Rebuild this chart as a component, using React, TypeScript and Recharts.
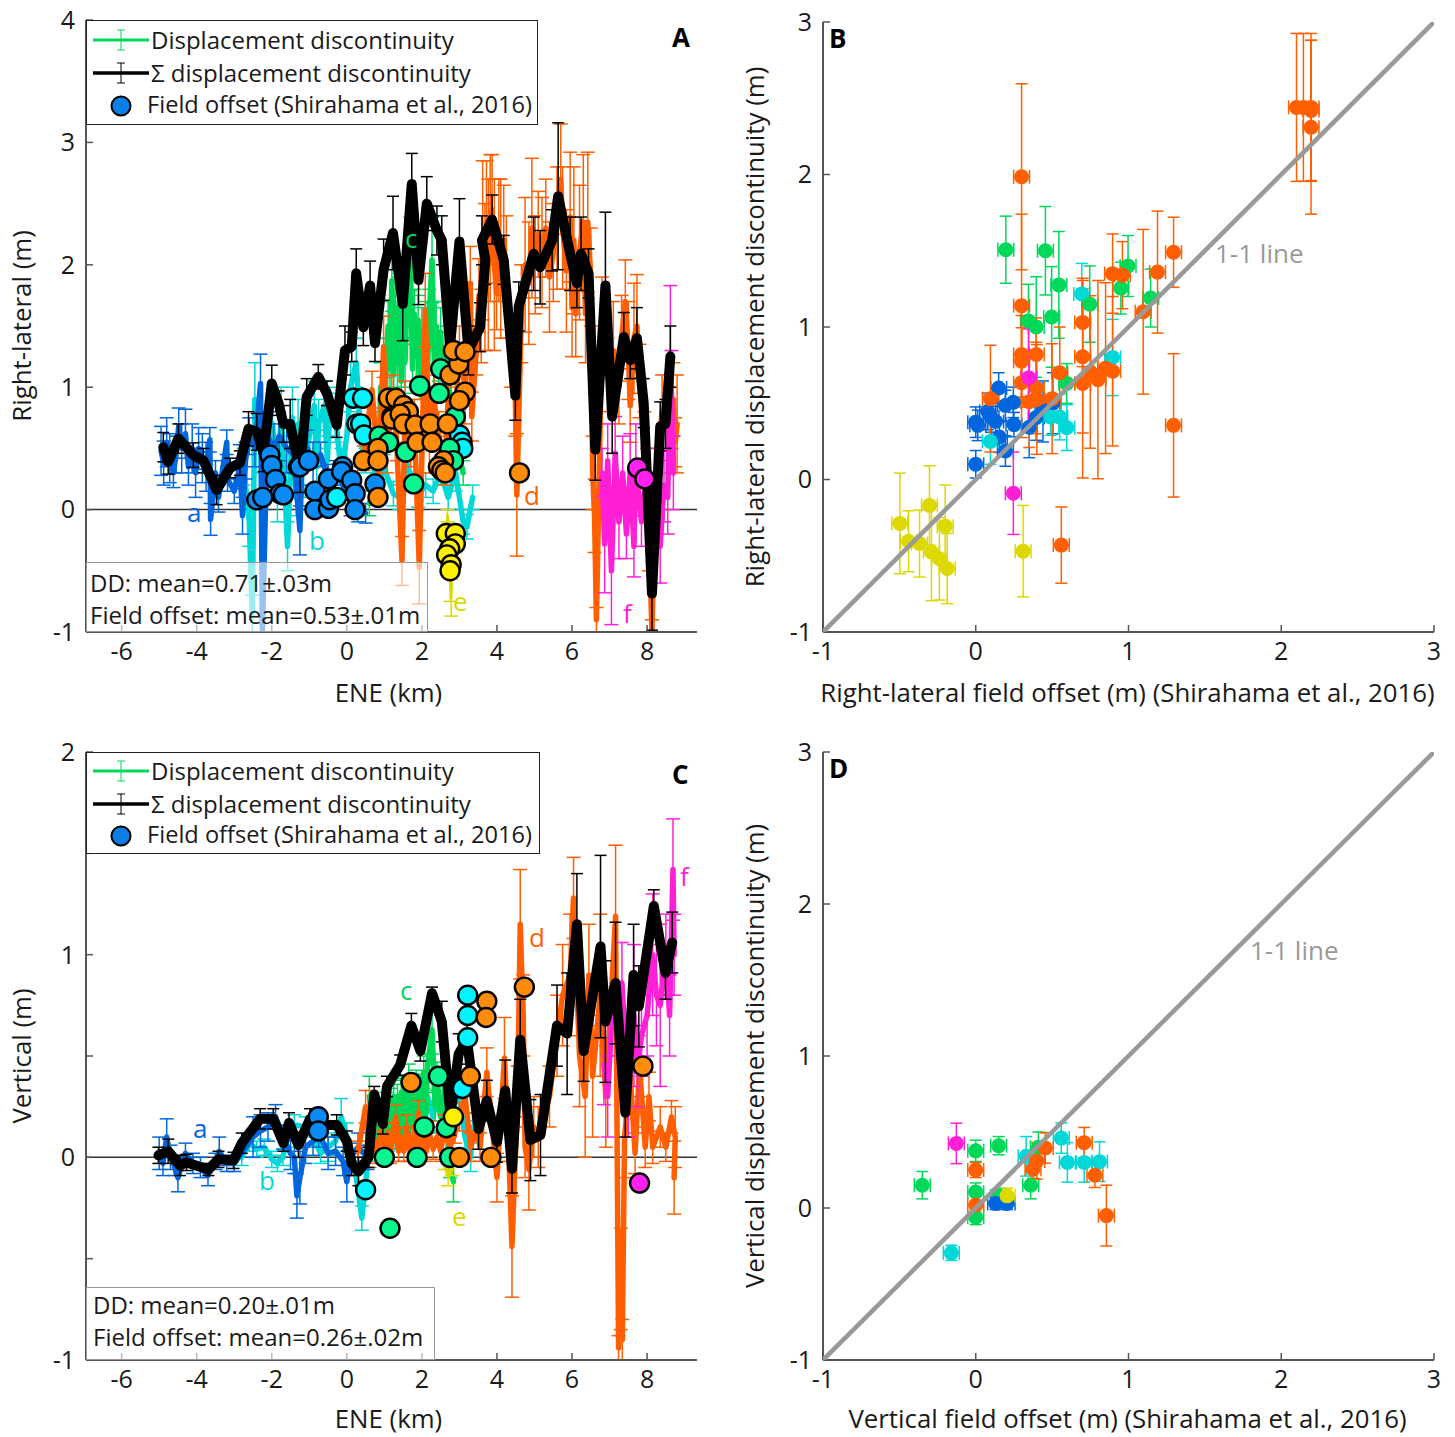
import React from 'react';
import { ComposedChart, Line, Scatter, XAxis, YAxis, ErrorBar, ReferenceLine } from 'recharts';

const FONT = '"Open Sans", sans-serif';
const BLUE = '#0066dd';
const CYAN = '#00d8d8';
const GREEN = '#00d85a';
const ORANGE = '#ff5f00';
const YELLOW = '#dcd800';
const MAGENTA = '#ff1fd6';
const AXIS = '#555555';

// panel A: right-lateral discontinuity along strike [km, m, err]
const aBlue = [[-4.95,.48,.2],[-4.88,.38,.18],[-4.8,.55,.2],[-4.72,.42,.2],[-4.62,.3,.12],[-4.55,.45,.15],[-4.48,.68,.15],[-4.4,.5,.2],[-4.3,.62,.2],[-4.22,.35,.15],[-4.12,.5,.2],[-4.03,.3,.2],[-3.95,.5,.17],[-3.85,.42,.2],[-3.75,.35,.2],[-3.65,.57,.1],[-3.63,-.08,.13],[-3.5,.3,.1],[-3.42,.1,.12],[-3.2,.55,.1],[-3.18,.25,.1],[-3,.15,.1],[-2.85,.35,.18],[-2.78,-.05,.15],[-2.7,.4,.15],[-2.6,.6,.15],[-2.45,.5,.15],[-2.3,1.03,.24],[-2.25,-1,0],[-2.12,.6,.2],[-1.95,.5,.2],[-1.8,.6,.2],[-1.6,.5,.2],[-1.42,.45,.15],[-1.25,-.17,.2],[-1.2,.4,.2],[-1.05,.5,.15],[-.9,.35,.2],[-.7,.45,.1],[-.5,.25,.12],[-.3,.3,.1],[-.1,.2,.12],[.1,.05,.1],[.3,0,.1],[.5,-.03,.08]];
const aCyan = [[-2.75,.35,.15],[-2.6,-.1,.2],[-2.52,-.85,.15],[-2.45,.9,.3],[-2.3,.5,.2],[-2.15,.45,.15],[-1.98,.7,.2],[-1.85,.1,.2],[-1.75,.8,.2],[-1.58,-.3,.2],[-1.45,.75,.25],[-1.35,.1,.15],[-1.3,.7,.2],[-1.15,.3,.2],[-1,.6,.2],[-.87,.85,.2],[-.8,.35,.2],[-.75,.7,.2],[-.6,.85,.2],[-.52,.4,.2],[-.45,.8,.2],[-.3,.75,.2],[-.15,.3,.2],[0,.6,.3],[.1,1,.2],[.25,1.2,.2],[.38,.55,.2],[.5,.4,.1],[.62,.5,.1],[.8,.2,.1],[.98,.35,.1],[1.24,.13,.1],[1.4,.1,.1],[1.6,.37,.1],[1.9,.12,.1],[2.1,.2,.1],[2.3,.15,.1],[2.5,.3,.1],[2.7,.1,.1],[2.9,.3,.15],[3.1,-.1,.1],[3.2,-.14,.1],[3.35,.1,.1]];
const aGreen = [[.6,.05,.1],[.85,.3,.2],[.9,1,.2],[1,.7,.2],[1.05,1.2,.2],[1.1,1.5,.2],[1.15,1.15,.2],[1.2,1.87,.25],[1.25,1.1,.2],[1.3,1.65,.2],[1.35,1.2,.2],[1.4,1.7,.2],[1.45,1.05,.2],[1.5,1.6,.2],[1.55,1.2,.2],[1.6,1.7,.2],[1.69,2.09,.3],[1.75,1.15,.2],[1.8,1.6,.2],[1.85,1.25,.2],[1.9,1.55,.2],[1.95,1.1,.2],[2,1.45,.2],[2.05,1.2,.2],[2.1,1.5,.2],[2.15,1.15,.2],[2.2,1.6,.2],[2.27,2.04,.35],[2.33,1.2,.2],[2.38,1.5,.2],[2.45,1.25,.2],[2.5,1.45,.2],[2.55,1.1,.2],[2.65,1.3,.2],[2.75,.9,.15],[2.85,.6,.15],[2.95,.5,.1],[3.1,.3,.1]];
const aOrange = [[.45,.42,.1],[.67,.98,.15],[.85,.3,.1],[.98,1.33,.25],[1.08,.5,.2],[1.2,.9,.2],[1.32,.6,.2],[1.47,-.42,.2],[1.55,.8,.25],[1.7,.55,.2],[1.8,.7,.2],[1.93,-.47,.3],[2.09,1.63,.3],[2.2,.5,.2],[2.32,.9,.2],[2.45,.6,.2],[2.62,.4,.2],[2.7,.9,.2],[2.9,.8,.2],[3,1.3,.2],[3.15,1,.3],[3.29,1.85,.3],[3.33,.76,.2],[3.45,1.3,.2],[3.52,1.75,.3],[3.58,1.5,.3],[3.62,2.2,.65],[3.68,1.9,.6],[3.72,2.35,.5],[3.77,2,.7],[3.82,2.3,.6],[3.87,2.45,.45],[3.93,2,.7],[3.99,1.77,.3],[4.05,2.2,.5],[4.1,2.05,.65],[4.18,2.2,.45],[4.25,1.9,.5],[4.38,1.3,.3],[4.49,.9,.3],[4.53,.12,.5],[4.65,1.6,.4],[4.75,2,.55],[4.85,1.85,.5],[4.93,2.3,.57],[5.02,2,.4],[5.1,2.25,.35],[5.2,2.1,.45],[5.3,2.3,.4],[5.4,1.9,.45],[5.5,2.1,.4],[5.6,2.3,.5],[5.7,2.7,.45],[5.75,2.3,.5],[5.85,1.95,.5],[5.95,2.39,.53],[6,1.65,.4],[6.05,2.2,.6],[6.1,1.6,.35],[6.2,2.1,.55],[6.3,2.35,.55],[6.36,1.6,.4],[6.42,2.35,.57],[6.5,1.9,.4],[6.55,.3,.3],[6.6,-.05,.3],[6.65,-.9,.1],[6.8,1.5,.4],[6.95,1.1,.3],[7.1,1.3,.4],[7.25,1,.3],[7.32,1.4,.35],[7.42,1.7,.34],[7.5,1.3,.4],[7.55,.85,.3],[7.65,1.4,.45],[7.73,1.5,.42],[7.8,1.05,.3],[7.93,.5,.3],[8.05,-.2,.3],[8.13,-1,.1],[8.22,.2,.3],[8.4,.8,.3],[8.6,.6,.3],[8.7,.9,.3],[8.75,.55,.2],[8.8,.7,.4]];
const aMagenta = [[6.8,.3,.2],[6.87,-.28,.4],[6.95,.4,.3],[7.05,-.5,.44],[7.15,.46,.3],[7.25,-.1,.3],[7.35,.3,.3],[7.45,-.2,.2],[7.55,.32,.3],[7.65,-.3,.25],[7.7,.4,.3],[7.85,-.1,.2],[8,.3,.2],[8.15,0,.2],[8.35,-.3,.3],[8.45,.2,.3],[8.55,.1,.3],[8.62,1.28,.55],[8.65,.9,.4],[8.7,.3,.3]];
const aYellow = [[2.68,-.05,.05],[2.72,-.3,.1],[2.76,-.6,.15],[2.78,-.72,.15],[2.8,-.4,.1],[2.85,-.3,.1]];
const aBlack = [[-4.89,.51,.12],[-4.76,.39,.1],[-4.49,.58,.12],[-4.09,.445,.1],[-3.82,.4,.1],[-3.47,.16,.12],[-3.11,.34,.08],[-2.85,.38,.1],[-2.62,.66,.14],[-2.4,.635,.15],[-2.22,.46,.15],[-2,1.03,.15],[-1.82,.87,.1],[-1.69,.7,.15],[-1.51,.7,.2],[-1.25,.32,.18],[-1.07,.92,.15],[-.76,1.085,.1],[-.53,.95,.1],[-.27,.69,.1],[-.05,1.3,.2],[.13,1.33,.12],[.25,1.93,.2],[.44,1.49,.15],[.62,1.83,.2],[.75,1.36,.15],[.98,1.96,.25],[1.23,2.26,.3],[1.49,1.68,.3],[1.73,2.66,.25],[1.91,1.875,.2],[2.13,2.5,.22],[2.4,2.28,.2],[2.53,2.2,.2],[2.75,1.33,.3],[3,2.19,.35],[3.24,1.3,.2],[3.55,1.49,.2],[3.69,2.04,.2],[3.6,2.2,.2],[3.87,2.37,.2],[4.18,2.04,.2],[4.49,.93,.2],[4.58,1.66,.2],[4.98,2.09,.3],[5.15,1.98,.3],[5.47,2.2,.25],[5.63,2.56,.6],[5.95,2.09,.3],[6.13,1.85,.2],[6.24,2.09,.3],[6.44,1.93,.2],[6.62,.49,.25],[6.89,1.83,.6],[7.07,.76,.3],[7.38,1.41,.2],[7.55,1.22,.15],[7.73,1.4,.25],[7.91,.87,.2],[8.13,-.685,.3],[8.35,.68,.2],[8.49,.7,.2],[8.62,1.25,.25]];

// panel A: field offsets [km, m]
const aFieldBlue = [[-2.05,.445],[-2,.36],[-1.9,.246],[-1.78,.13],[-1.69,.12],[-2.4,.08],[-2.24,.1],[-1.29,.35],[-1.25,.35],[-1.02,.4],[-.85,.15],[-.85,0],[-.49,.25],[-.49,.01],[-.45,.08],[-.11,.35],[-.14,.31],[.13,.24],[.22,.13],[.22,0],[.75,.21]];
const aFieldCyan = [[-.27,.1],[.17,.91],[.42,.91],[.27,.7],[.37,.7],[.46,.61],[3,.61],[3.07,.55],[3.09,.5]];
const aFieldGreen = [[.86,.6],[1.11,.55],[1.94,1.01],[2.46,.95],[2.5,1.15],[1.57,.47],[1.78,.21],[2.89,.76],[2.74,.5],[2.84,.4]];
const aFieldOrange = [[.44,.4],[.83,.5],[.83,.4],[.83,.1],[1.29,.9],[1.2,.76],[1.11,.91],[1.31,.91],[1.51,.85],[1.64,.8],[1.2,.74],[1.42,.78],[1.51,.7],[1.82,.69],[2.22,.7],[2.68,.7],[1.87,.55],[2.27,.55],[2.58,.4],[2.44,.35],[2.53,.32],[2.62,.3],[3.15,.96],[3,.89],[2.75,1.1],[2.98,1.19],[2.84,1.3],[3.15,1.29],[4.6,.3]];
const aFieldYellow = [[2.65,-.195],[2.89,-.195],[2.89,-.28],[2.74,-.32],[2.66,-.37],[2.78,-.45],[2.75,-.5]];
const aFieldMagenta = [[7.75,.34],[7.94,.25]];

// panel B: field offset vs discontinuity [field, dd, err]
const bBlue = [[0,.1,.09],[.194,.187,.1],[.15,.6,.1],[0,.376,.1],[.013,.355,.1],[.078,.446,.12],[.13,.38,.1],[.155,.278,.1],[.194,.485,.1],[.246,.506,.1],[.25,.36,.08],[.35,.343,.2],[.396,.407,.15],[.44,.446,.2],[.505,.5,.2],[.1,.41,.1]];
const bCyan = [[.694,1.217,.2],[.896,.8,.25],[.49,.41,.12],[.55,.41,.15],[.596,.34,.15],[.096,.25,.15]];
const bGreen = [[.197,1.507,.22],[.456,1.5,.29],[.997,1.4,.2],[.544,1.276,.35],[.95,1.255,.17],[1.145,1.19,.19],[.746,1.15,.25],[.497,1.066,.33],[.345,1.04,.24],[.396,1,.33],[.596,.63,.13]];
const bOrange = [[.3,1.985,.61],[2.1,2.44,.485],[2.145,2.44,.485],[2.195,2.44,.485],[2.195,2.42,.46],[2.195,2.31,.57],[.3,1.14,.6],[1.295,1.49,.23],[1.19,1.36,.4],[.896,1.35,.26],[.96,1.34,.22],[1.096,1.1,.54],[.7,1.03,.29],[.3,.82,.3],[.3,.775,.3],[.396,.82,.24],[.7,.805,.5],[.55,.7,.3],[.3,.635,.36],[.7,.63,.62],[.75,.705,.5],[.8,.655,.65],[.85,.73,.56],[.896,.71,.49],[.096,.53,.35],[.396,.6,.3],[.35,.51,.3],[.4,.525,.36],[.5,.53,.36],[1.295,.355,.47],[.56,-.43,.25]];
const bMagenta = [[.347,.667,.32],[.246,-.09,.27]];
const bYellow = [[-.497,-.288,.33],[-.44,-.405,.2],[-.368,-.42,.22],[-.303,-.17,.26],[-.29,-.475,.32],[-.238,-.52,.27],[-.2,-.306,.27],[-.187,-.584,.23],[.31,-.47,.3]];

// panel C: vertical discontinuity along strike [km, m, err]
const cBlue = [[-5,.02,.08],[-4.9,-.03,.06],[-4.8,.1,.09],[-4.7,0,.06],[-4.6,-.04,.05],[-4.5,-.1,.07],[-4.3,.02,.05],[-4.1,-.03,.05],[-3.9,-.05,.05],[-3.7,-.09,.05],[-3.5,-.02,.04],[-3.4,.03,.07],[-3.2,-.03,.04],[-3,-.03,.04],[-2.5,.1,.1],[-2.3,.13,.08],[-2.1,.15,.07],[-1.9,.2,.06],[-1.7,.1,.06],[-1.5,.02,.08],[-1.4,0,.08],[-1.33,-.19,.11],[-1.25,-.1,.13],[-1.1,.05,.08],[-.9,.08,.07],[-.75,.12,.07],[-.5,.02,.08],[-.3,.03,.07],[-.1,-.02,.07],[0,-.12,.1],[.1,0,.07],[.3,.05,.07],[.55,0,.06]];
const cCyan = [[-2.8,0,.04],[-2.6,.07,.04],[-2.4,.04,.04],[-2.2,.05,.04],[-2,-.01,.04],[-1.85,-.03,.04],[-1.7,0,.04],[-1.6,.1,.05],[-1.4,.16,.05],[-1.1,.15,.05],[-.9,.1,.05],[-.7,.02,.05],[-.5,.05,.07],[-.3,.08,.07],[-.15,.2,.09],[0,.1,.07],[.2,-.03,.06],[.4,-.3,.06],[.6,.05,.07],[.8,.1,.07],[1.1,.1,.07],[1.5,.12,.07],[1.8,.2,.07],[2,.15,.08],[2.15,.3,.08],[2.3,.2,.08],[2.4,.33,.08],[2.5,.2,.08],[2.65,.33,.08],[2.8,.25,.08],[3,.3,.08],[3.15,.1,.08],[3.3,0,.07],[3.35,.15,.07]];
const cGreen = [[.6,.3,.1],[.75,.05,.05],[.85,.2,.06],[.95,.1,.06],[1.05,.25,.07],[1.1,.1,.06],[1.15,.28,.06],[1.2,.1,.06],[1.25,.3,.08],[1.3,.1,.06],[1.35,.3,.06],[1.4,.12,.06],[1.45,.32,.08],[1.5,.1,.06],[1.55,.33,.06],[1.6,.15,.06],[1.65,.38,.08],[1.7,.15,.06],[1.75,.35,.06],[1.8,.15,.06],[1.85,.35,.08],[1.9,.18,.06],[1.95,.35,.06],[2,.18,.06],[2.05,.42,.08],[2.1,.2,.06],[2.15,.45,.06],[2.27,.63,.12],[2.35,.25,.07],[2.4,.4,.07],[2.5,.2,.07],[2.55,.3,.07],[2.68,.1,.06],[2.75,-.05,.05],[2.84,-.12,.1]];
const cOrange = [[.3,.03,.05],[.5,.25,.08],[.6,0,.05],[.7,.08,.05],[.8,.03,.06],[.9,.12,.06],[1,.04,.06],[1.08,.12,.05],[1.15,.02,.05],[1.23,.12,.05],[1.3,.2,.06],[1.38,.03,.05],[1.45,.1,.05],[1.52,.03,.05],[1.6,.15,.06],[1.68,.03,.05],[1.75,.1,.05],[1.82,.05,.05],[1.9,.22,.06],[1.98,.04,.05],[2.05,.1,.05],[2.12,.03,.05],[2.2,.12,.06],[2.3,.04,.05],[2.4,.1,.05],[2.5,.03,.05],[2.6,.15,.06],[2.75,.05,.05],[2.88,.12,.05],[3,.2,.07],[3.15,.3,.08],[3.3,.05,.07],[3.45,.15,.07],[3.55,.05,.07],[3.73,.42,.12],[3.9,.1,.08],[4,-.1,.12],[4.2,.49,.2],[4.3,.1,.12],[4.4,-.44,.25],[4.55,.3,.15],[4.62,1.15,.27],[4.7,.7,.2],[4.75,.05,.15],[4.85,-.06,.2],[4.98,.15,.15],[5.1,.1,.15],[5.4,.3,.15],[5.6,.6,.2],[5.75,.8,.25],[5.95,.9,.3],[6.04,1.28,.2],[6.2,.5,.25],[6.35,.3,.3],[6.45,.9,.25],[6.55,.4,.3],[6.75,.8,.4],[6.9,.3,.25],[7.16,1.19,.35],[7.24,-.94,.06],[7.3,-.6,.25],[7.34,-.9,.1],[7.4,.1,.2],[7.55,.4,.15],[7.68,.02,.1],[7.8,.45,.15],[7.95,.05,.1],[8.05,.3,.12],[8.15,.05,.08],[8.35,.15,.1],[8.5,.05,.07],[8.65,.2,.08],[8.75,.1,.15],[8.72,-.1,.18]];
const cMagenta = [[6.85,.46,.2],[6.95,.3,.2],[7.05,.65,.15],[7.33,.86,.2],[7.5,.3,.2],[7.65,.7,.35],[7.75,.45,.2],[7.85,.6,.2],[8,.7,.2],[8.15,1,.3],[8.25,.8,.25],[8.35,.75,.4],[8.5,1,.2],[8.6,.7,.2],[8.69,1.42,.25],[8.72,1,.2]];
const cYellow = [[2.6,-.03,.03],[2.7,-.1,.04],[2.8,-.05,.04]];
const cBlack = [[-5.02,.01,.04],[-4.76,.03,.06],[-4.45,-.04,.05],[-4.27,-.025,.04],[-3.69,-.06,.03],[-3.42,-.01,.04],[-3.02,-.015,.04],[-2.8,.07,.05],[-2.31,.19,.05],[-1.96,.19,.05],[-1.69,.07,.04],[-1.54,.17,.05],[-1.29,.06,.06],[-.98,.19,.05],[-.76,.16,.05],[-.27,.16,.05],[0,.08,.05],[.13,-.03,.06],[.31,-.07,.07],[.58,0,.05],[.73,.31,.04],[.96,.165,.05],[1.07,.35,.05],[1.42,.455,.05],[1.72,.65,.06],[1.96,.525,.05],[2.27,.81,.03],[2.53,.67,.1],[2.76,.21,.1],[2.98,.51,.1],[3.2,.58,.12],[3.51,.14,.1],[3.73,.28,.1],[4,.076,.1],[4.22,.33,.15],[4.4,-.056,.12],[4.62,.58,.2],[4.89,.085,.2],[5.16,.11,.2],[5.6,.65,.2],[5.87,.61,.3],[6.13,1.15,.25],[6.31,.525,.15],[6.76,1.04,.45],[6.89,.67,.3],[7.16,.86,.3],[7.42,.22,.12],[7.64,.9,.25],[7.78,.745,.2],[8.18,1.24,.08],[8.49,.91,.13],[8.67,1.06,.15]];

// panel C: field offsets [km, m]
const cFieldBlue = [[-.76,.2],[-.76,.13]];
const cFieldCyan = [[3.22,.8],[3.22,.7],[3.22,.59],[3.08,.34],[.5,-.16]];
const cFieldGreen = [[1.15,-.35],[1,0],[1.87,0],[2.06,.15],[2.44,.4],[2.65,.146],[2.74,0]];
const cFieldOrange = [[1.71,.37],[3.73,.77],[3.71,.69],[3.29,.4],[3.84,0],[3,0],[4.73,.84],[7.89,.45]];
const cFieldYellow = [[2.84,.2]];
const cFieldMagenta = [[7.8,-.127]];

// panel D: field offset vs discontinuity [field, dd, err]
const dMagenta = [[-.127,.425,.133]];
const dGreen = [[0,.376,.07],[.15,.41,.06],[-.35,.15,.09],[0,.105,.06],[0,-.06,.05],[.36,.15,.09],[.41,.4,.1],[.15,.08,.05]];
const dOrange = [[0,.25,.05],[0,.02,.06],[.71,.43,.1],[.78,.215,.08],[.855,-.05,.2],[.455,.395,.1],[.4,.31,.12],[.375,.255,.06]];
const dCyan = [[.56,.46,.1],[.6,.3,.13],[.71,.3,.13],[.81,.305,.13],[.33,.34,.13],[-.16,-.295,.05]];
const dBlue = [[.13,.03,.04],[.205,.03,.04]];
const dYellow = [[.205,.08,.05]];

const oneToOne = [{ x: -1, y: -1 }, { x: 3, y: 3 }];
const xTicksKm = [-6, -4, -2, 0, 2, 4, 6, 8];
const unitTicks = [-1, 0, 1, 2, 3];
const aTicks = [-1, 0, 1, 2, 3, 4];
const cTicks = [-1, -0.5, 0, 0.5, 1, 1.5, 2];

// error bars stop at the bottom of the axes, they are not clipped by the plot area
const toRows = (t: number[][]) => t.map(([x, y, e]) => ({ x, y, e: [Math.max(0, Math.min(e, y + 1)), e], ex: 0.052 }));
const toPoints = (t: number[][]) => t.map(([x, y]) => ({ x, y }));

const tickStyle = { fontFamily: FONT, fontSize: 25, fill: '#1a1a1a' };
const labelStyle = { fontFamily: FONT, fontSize: 25.8, fill: '#1a1a1a' };

const profile = (key: string, rows: number[][], color: string, width = 5.5, cap = 7) => (
    <Line key={key} data={toRows(rows)} dataKey="y" stroke={color} strokeWidth={width} dot={false}
        strokeLinejoin="round" strokeLinecap="round" isAnimationActive={false} activeDot={false}>
        <ErrorBar dataKey="e" direction="y" width={cap} stroke={color} strokeWidth={1.5} />
    </Line>
);

const field = (key: string, rows: number[][], color: string) => (
    <Scatter key={key} data={toPoints(rows)} dataKey="y" isAnimationActive={false}
        shape={(p: any) => <circle cx={p.cx} cy={p.cy} r={9.5} fill={color} stroke="#000" strokeWidth={2.4} />} />
);

const compare = (key: string, rows: number[][], color: string) => (
    <Scatter key={key} data={toRows(rows)} dataKey="y" isAnimationActive={false}
        shape={(p: any) => <circle cx={p.cx} cy={p.cy} r={7.5} fill={color} />}>
        <ErrorBar dataKey="e" direction="y" width={6} stroke={color} strokeWidth={1.5} />
        <ErrorBar dataKey="ex" direction="x" width={7} stroke={color} strokeWidth={1.5} />
    </Scatter>
);

const Panel = ({ left, top, width, height, margin, yWidth, xHeight, xDomain, yDomain, xTicks, yTicks, xLabel, yLabel, xOffset, xShift, yOffset, children }: any) => {
    const showLabel = (v: number) => (Number.isInteger(v) ? String(v) : '');
    const axisLine = { stroke: AXIS, strokeWidth: 2 };
    const tickLine = { stroke: AXIS, strokeWidth: 1.5 };
    return (
        <div style={{ position: 'absolute', left, top }}>
            <ComposedChart width={width} height={height} margin={margin}>
                <XAxis dataKey="x" type="number" domain={xDomain} ticks={xTicks} interval={0} allowDataOverflow
                    height={xHeight} tickSize={-7} tickMargin={17} tick={tickStyle} axisLine={axisLine} tickLine={tickLine}
                    label={{ value: xLabel, position: 'insideBottom', offset: xOffset, dx: xShift, style: labelStyle }} />
                <YAxis type="number" domain={yDomain} ticks={yTicks} interval={0} allowDataOverflow tickFormatter={showLabel}
                    width={yWidth} tickSize={-7} tickMargin={18} tick={tickStyle} axisLine={axisLine} tickLine={tickLine}
                    label={{ value: yLabel, angle: -90, position: 'insideLeft', offset: yOffset, textAnchor: 'middle', style: labelStyle }} />
                <XAxis xAxisId="top" orientation="top" type="number" domain={xDomain} ticks={xTicks} interval={0} allowDataOverflow
                    height={0} tickSize={-7} tickFormatter={() => ''} axisLine={axisLine} tickLine={tickLine} />
                <YAxis yAxisId="right" orientation="right" type="number" domain={yDomain} ticks={yTicks} interval={0} allowDataOverflow
                    width={0} tickSize={-7} tickFormatter={() => ''} axisLine={axisLine} tickLine={tickLine} />
                {children}
            </ComposedChart>
        </div>
    );
};

const Note = ({ x, y, color, size = 26, bold = false, children }: any) => (
    <div style={{ position: 'absolute', left: x, top: y, color, fontFamily: FONT, fontSize: size, fontWeight: bold ? 700 : 400, lineHeight: 1, whiteSpace: 'nowrap' }}>
        {children}
    </div>
);

const Sample = ({ color, width }: any) => (
    <svg width={56} height={24} style={{ position: 'absolute', left: 6, top: -12 }}>
        <line x1={0} y1={12} x2={56} y2={12} stroke={color} strokeWidth={width} />
        <line x1={28} y1={2} x2={28} y2={22} stroke={color} strokeWidth={1} />
        <line x1={24} y1={2} x2={32} y2={2} stroke={color} strokeWidth={1} />
        <line x1={24} y1={22} x2={32} y2={22} stroke={color} strokeWidth={1} />
    </svg>
);

const LegendBox = ({ x, y, w, h, rows }: any) => (
    <div style={{ position: 'absolute', left: x, top: y, width: w, height: h, background: '#fff', border: '1.5px solid #222', boxSizing: 'border-box', fontFamily: FONT, fontSize: 24, color: '#1a1a1a' }}>
        <div style={{ position: 'absolute', left: 0, top: rows[0] }}><Sample color={GREEN} width={3} /></div>
        <div style={{ position: 'absolute', left: 64, top: rows[0] - 17, whiteSpace: 'nowrap' }}>Displacement discontinuity</div>
        <div style={{ position: 'absolute', left: 0, top: rows[1] }}><Sample color="#000" width={3.5} /></div>
        <div style={{ position: 'absolute', left: 64, top: rows[1] - 17, whiteSpace: 'nowrap' }}>Σ displacement discontinuity</div>
        <svg width={24} height={24} style={{ position: 'absolute', left: 22, top: rows[2] - 12 }}>
            <circle cx={12} cy={12} r={9.5} fill="#0a7fe6" stroke="#000" strokeWidth={2} />
        </svg>
        <div style={{ position: 'absolute', left: 60, top: rows[2] - 18, fontSize: 23.6, whiteSpace: 'nowrap' }}>Field offset (Shirahama et al., 2016)</div>
    </div>
);

const StatBox = ({ x, y, w, h, lines, inset, first }: any) => (
    <div style={{ position: 'absolute', left: x, top: y, width: w, height: h, background: 'rgba(255,255,255,0.6)', border: '1px solid #999', boxSizing: 'border-box', fontFamily: FONT, fontSize: 24, color: '#1a1a1a' }}>
        {lines.map((t: string, i: number) => (
            <div key={t} style={{ position: 'absolute', left: inset, top: first + i * 31.5, whiteSpace: 'nowrap' }}>{t}</div>
        ))}
    </div>
);

const FIELD_BLUE = '#0a8af5';
const FIELD_CYAN = '#00f5ff';
const FIELD_GREEN = '#0af58f';
const FIELD_ORANGE = '#ff8c0a';
const FIELD_YELLOW = '#fff000';
const FIELD_MAGENTA = '#ff22ee';

export default function App() {
    return (
        <div style={{ position: 'absolute', left: 0, top: 0, width: 1455, height: 1437, background: '#fff', overflow: 'hidden' }}>
            <Panel left={0} top={0} width={727} height={720} margin={{ top: 20, right: 30, bottom: 0, left: 0 }}
                yWidth={86} xHeight={88} xDomain={[-6.95, 9.33]} yDomain={[-1, 4]} xTicks={xTicksKm} yTicks={aTicks}
                xLabel="ENE (km)" yLabel="Right-lateral (m)" xOffset={18} xShift={-3} yOffset={22}>
                <ReferenceLine y={0} stroke="#333" strokeWidth={1.5} />
                {profile('aCyan', aCyan, CYAN)}
                {profile('aBlue', aBlue, BLUE)}
                {profile('aGreen', aGreen, GREEN)}
                {profile('aOrange', aOrange, ORANGE)}
                {profile('aMagenta', aMagenta, MAGENTA)}
                {profile('aYellow', aYellow, YELLOW, 3)}
                {profile('aBlack', aBlack, '#000', 10, 6)}
                {field('afb', aFieldBlue, FIELD_BLUE)}
                {field('afc', aFieldCyan, FIELD_CYAN)}
                {field('afg', aFieldGreen, FIELD_GREEN)}
                {field('afo', aFieldOrange, FIELD_ORANGE)}
                {field('afy', aFieldYellow, FIELD_YELLOW)}
                {field('afm', aFieldMagenta, FIELD_MAGENTA)}
            </Panel>

            <Panel left={728} top={0} width={727} height={720} margin={{ top: 22, right: 21, bottom: 0, left: 0 }}
                yWidth={95} xHeight={88} xDomain={[-1, 3]} yDomain={[-1, 3]} xTicks={unitTicks} yTicks={unitTicks}
                xLabel="Right-lateral field offset (m) (Shirahama et al., 2016)" yLabel="Right-lateral displacement discontinuity (m)" xOffset={18} xShift={-1} yOffset={27}>
                {compare('bb', bBlue, BLUE)}
                {compare('bc', bCyan, CYAN)}
                {compare('bg', bGreen, GREEN)}
                {compare('by', bYellow, YELLOW)}
                {compare('bo', bOrange, ORANGE)}
                {compare('bm', bMagenta, MAGENTA)}
                <Scatter data={oneToOne} dataKey="y" isAnimationActive={false} line={{ stroke: '#999', strokeWidth: 4.5 }} shape={() => null} />
            </Panel>

            <Panel left={0} top={720} width={727} height={717} margin={{ top: 32, right: 30, bottom: 0, left: 0 }}
                yWidth={86} xHeight={77} xDomain={[-6.95, 9.33]} yDomain={[-1, 2]} xTicks={xTicksKm} yTicks={cTicks}
                xLabel="ENE (km)" yLabel="Vertical (m)" xOffset={9} xShift={-3} yOffset={22}>
                <ReferenceLine y={0} stroke="#333" strokeWidth={1.5} />
                {profile('cCyan', cCyan, CYAN)}
                {profile('cBlue', cBlue, BLUE)}
                {profile('cGreen', cGreen, GREEN)}
                {profile('cOrange', cOrange, ORANGE)}
                {profile('cMagenta', cMagenta, MAGENTA)}
                {profile('cYellow', cYellow, YELLOW, 3)}
                {field('cfb', cFieldBlue, FIELD_BLUE)}
                {field('cfc', cFieldCyan, FIELD_CYAN)}
                {field('cfg', cFieldGreen, FIELD_GREEN)}
                {field('cfo', cFieldOrange, FIELD_ORANGE)}
                {field('cfy', cFieldYellow, FIELD_YELLOW)}
                {field('cfm', cFieldMagenta, FIELD_MAGENTA)}
                {profile('cBlack', cBlack, '#000', 10, 6)}
            </Panel>

            <Panel left={728} top={720} width={727} height={717} margin={{ top: 32, right: 21, bottom: 0, left: 0 }}
                yWidth={95} xHeight={77} xDomain={[-1, 3]} yDomain={[-1, 3]} xTicks={unitTicks} yTicks={unitTicks}
                xLabel="Vertical field offset (m) (Shirahama et al., 2016)" yLabel="Vertical displacement discontinuity (m)" xOffset={9} xShift={-1} yOffset={27}>
                {compare('dg', dGreen, GREEN)}
                {compare('db', dBlue, BLUE)}
                {compare('dy', dYellow, YELLOW)}
                {compare('dc', dCyan, CYAN)}
                {compare('do', dOrange, ORANGE)}
                {compare('dm', dMagenta, MAGENTA)}
                <Scatter data={oneToOne} dataKey="y" isAnimationActive={false} line={{ stroke: '#999', strokeWidth: 4.5 }} shape={() => null} />
            </Panel>

            <LegendBox x={86} y={20} w={452} h={105} rows={[19, 52, 85]} />
            <LegendBox x={86} y={752} w={454} h={102} rows={[18, 51, 83]} />
            <StatBox x={86} y={562} w={342} h={70} inset={3} first={3} lines={['DD: mean=0.71±.03m', 'Field offset: mean=0.53±.01m']} />
            <StatBox x={86} y={1287} w={349} h={73} inset={6} first={0} lines={['DD: mean=0.20±.01m', 'Field offset: mean=0.26±.02m']} />

            <Note x={672} y={24} color="#000" bold>A</Note>
            <Note x={829} y={25} color="#000" bold>B</Note>
            <Note x={672} y={761} color="#000" bold>C</Note>
            <Note x={829} y={755} color="#000" bold>D</Note>
            <Note x={1215} y={240} color="#999">1-1 line</Note>
            <Note x={1250} y={937} color="#999">1-1 line</Note>

            <Note x={187} y={499} color={BLUE}>a</Note>
            <Note x={309} y={527} color={CYAN}>b</Note>
            <Note x={405} y={225} color={GREEN}>c</Note>
            <Note x={524} y={482} color={ORANGE}>d</Note>
            <Note x={453} y={588} color={YELLOW}>e</Note>
            <Note x={623} y={600} color={MAGENTA}>f</Note>

            <Note x={193} y={1115} color={BLUE}>a</Note>
            <Note x={259} y={1167} color={CYAN}>b</Note>
            <Note x={400} y={977} color={GREEN}>c</Note>
            <Note x={529} y={924} color={ORANGE}>d</Note>
            <Note x={452} y={1203} color={YELLOW}>e</Note>
            <Note x={680} y={863} color={MAGENTA}>f</Note>
        </div>
    );
}
